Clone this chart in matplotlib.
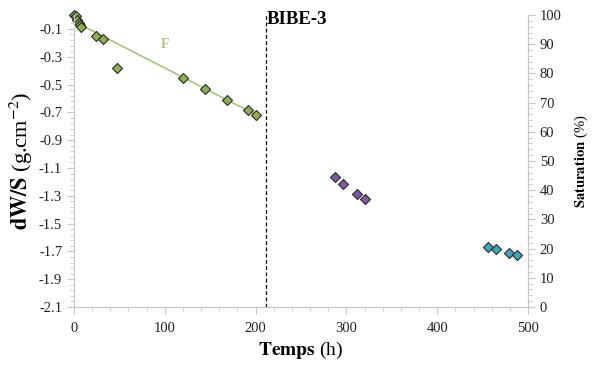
import matplotlib
matplotlib.use("Agg")
import matplotlib.pyplot as plt
from matplotlib.ticker import MultipleLocator, FixedLocator
import numpy as np

plt.rcParams['font.family'] = ['Liberation Serif', 'DejaVu Serif']
plt.rcParams['mathtext.fontset'] = 'stix'

# Data
green_t = [0, 2.2, 3.7, 5.1, 6.6, 8.0, 24.2, 31.6, 47.7, 119.6, 144.6, 168.0, 191.6, 200.0]
green_dw = [0.0, -0.01, -0.035, -0.055, -0.07, -0.088, -0.15, -0.175, -0.38, -0.45, -0.53, -0.61, -0.68, -0.72]
trend_t = [4, 203]
trend_dw = [-0.06, -0.726]
purple_t = [287.8, 295.9, 312.0, 320.5]
purple_dw = [-1.167, -1.215, -1.29, -1.325]
teal_t = [456.0, 464.4, 479.4, 487.9]
teal_dw = [-1.668, -1.68, -1.71, -1.724]
bibe_t = 211.5
x_ticks = [0, 100, 200, 300, 400, 500]
y_ticks = [-2.1, -1.9, -1.7, -1.5, -1.3, -1.1, -0.9, -0.7, -0.5, -0.3, -0.1]
sat_ticks = [0, 10, 20, 30, 40, 50, 60, 70, 80, 90, 100]

fig = plt.figure(figsize=(5.94, 3.67), dpi=100)
ax = fig.add_axes([74/594, 1-307/367, (528-74)/594, (307-15)/367])
ax2 = ax.twinx()

spine_col = '#c8c8c8'
for a in (ax, ax2):
    for s in a.spines.values():
        s.set_color(spine_col)
    a.spines['top'].set_visible(False)

ax.plot(trend_t, trend_dw, color='#a8c878', lw=1.2, zorder=2)
mk = dict(marker='D', s=26, edgecolors='#2a2a2a', linewidths=0.8, zorder=3, clip_on=False)
ax.scatter(green_t, green_dw, c='#8fb04e', **mk)
ax.scatter(purple_t, purple_dw, c='#7b5ba6', **mk)
ax.scatter(teal_t, teal_dw, c='#3ba7bd', **mk)

ax.axvline(bibe_t, color='black', ls=(0, (3, 2)), lw=0.9)
ax.text(bibe_t + 1, -0.03, 'BIBE-3', fontsize=13.5, fontweight='bold', va='center', ha='left')
ax.text(100, -0.215, 'F', fontsize=10, fontweight='bold', color='#a8c878', ha='center', va='center')

ax.set_xlim(0, 500)
ax.set_ylim(-2.1, 0)
ax2.set_ylim(0, 100)

ax.xaxis.set_major_locator(FixedLocator(x_ticks))
ax.xaxis.set_minor_locator(MultipleLocator(20))
ax.yaxis.set_major_locator(FixedLocator(y_ticks))
ax.yaxis.set_minor_locator(FixedLocator(np.round(np.arange(-2.1, 0.001, 0.04), 3)))
ax.set_yticklabels([f'{v:.1f}' for v in y_ticks])
ax2.yaxis.set_major_locator(FixedLocator(sat_ticks))
ax2.yaxis.set_minor_locator(MultipleLocator(2))

for a in (ax, ax2):
    a.tick_params(which='major', length=5, color=spine_col, labelsize=10.5, labelcolor='#222222')
    a.tick_params(which='minor', length=3, color=spine_col)
ax.tick_params(axis='x', pad=6)

ax.set_xlabel(r'$\mathbf{Temps}$ (h)', fontsize=14, labelpad=3)
ax.set_ylabel(r'$\mathbf{dW/S}$ (g.cm$^{-2}$)', fontsize=16, labelpad=3)
ax2.set_ylabel(r'$\mathbf{Saturation}$ (%)', fontsize=10.5, labelpad=8)

fig.savefig('out.png', dpi=100)
